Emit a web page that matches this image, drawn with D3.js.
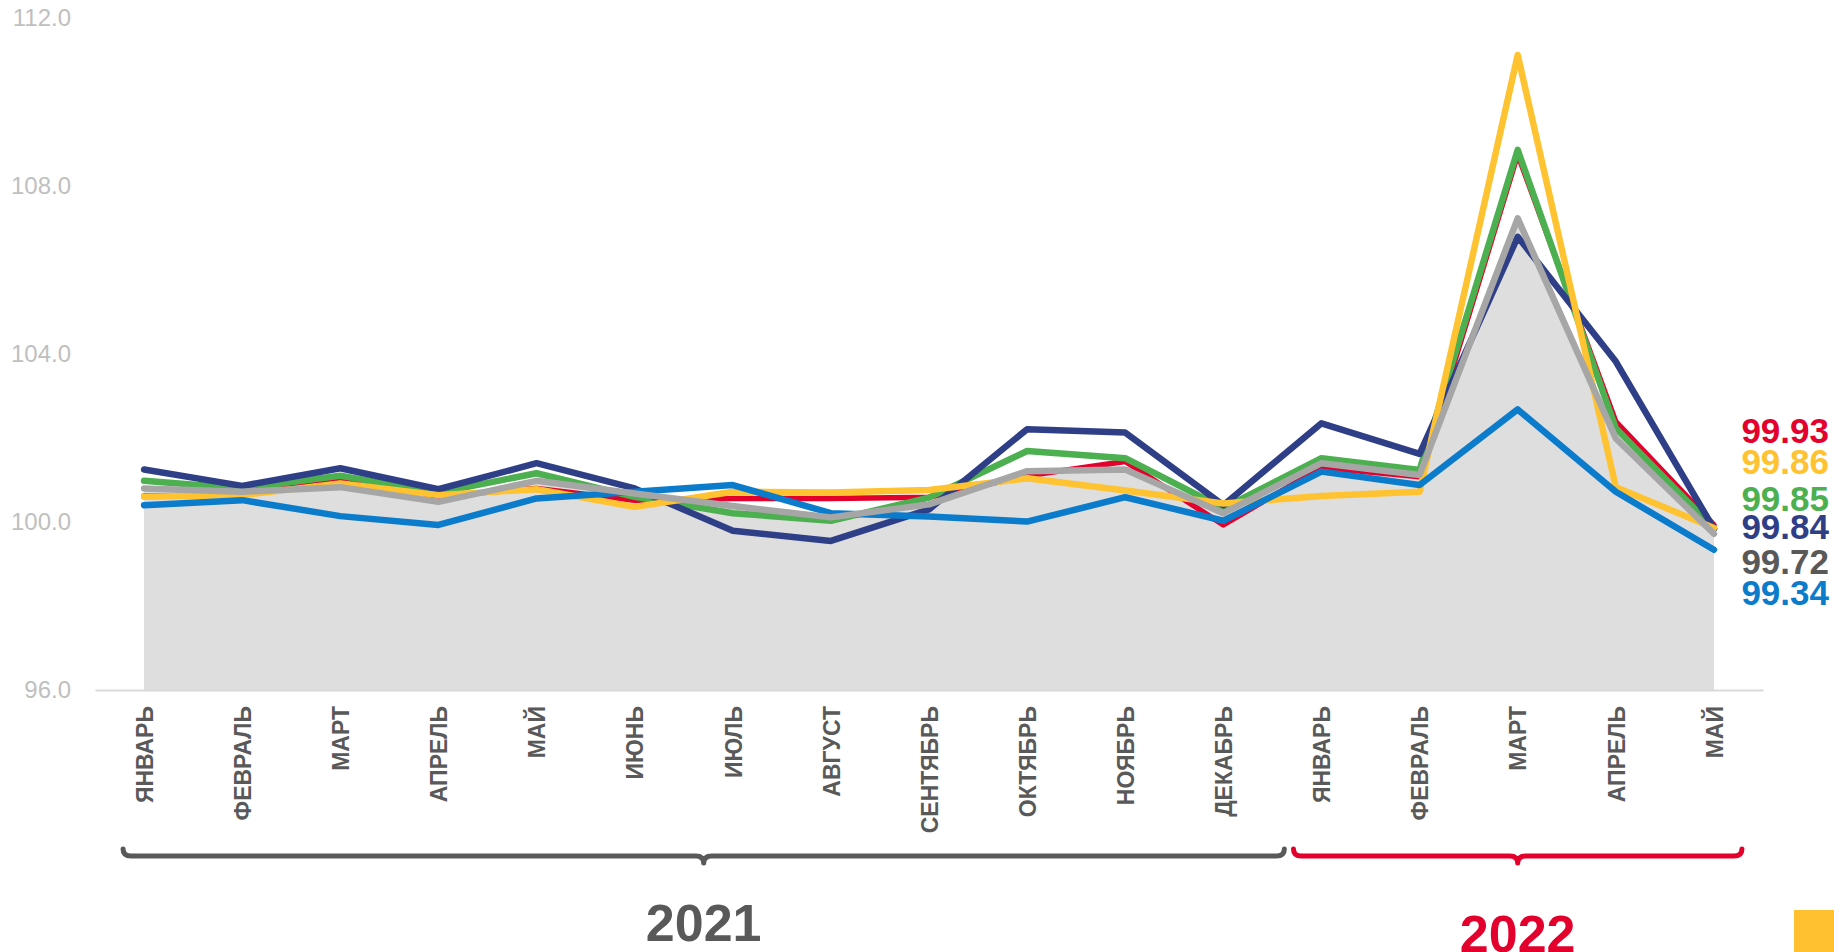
<!DOCTYPE html>
<html>
<head>
<meta charset="utf-8">
<script src="https://cdn.jsdelivr.net/npm/d3@7"></script>
<style>
  html, body { margin: 0; padding: 0; background: #ffffff; }
  svg { display: block; font-family: "Liberation Sans", Arial, sans-serif; }
</style>
</head>
<body>
<svg id="chart" width="1834" height="952"></svg>
<script>
// ---- data ----
const months = ["ЯНВАРЬ","ФЕВРАЛЬ","МАРТ","АПРЕЛЬ","МАЙ","ИЮНЬ","ИЮЛЬ","АВГУСТ","СЕНТЯБРЬ","ОКТЯБРЬ","НОЯБРЬ","ДЕКАБРЬ","ЯНВАРЬ","ФЕВРАЛЬ","МАРТ","АПРЕЛЬ","МАЙ"];
const yTicks = [96, 100, 104, 108, 112];
const years = ["2021", "2022"];

const redSeries    = [100.62,100.65,101.00,100.62,100.80,100.52,100.56,100.56,100.59,101.10,101.44, 99.93,101.30,101.08,108.75,102.39, 99.93];
const yellowSeries = [100.60,100.64,100.92,100.64,100.78,100.36,100.72,100.70,100.76,101.04,100.75,100.44,100.62,100.72,111.12,100.83, 99.86];
const greenSeries  = [100.98,100.80,101.10,100.70,101.16,100.60,100.21,100.03,100.58,101.69,101.52,100.33,101.52,101.24,108.86,102.23, 99.85];
const navySeries   = [101.25,100.86,101.28,100.78,101.40,100.80, 99.79, 99.55,100.30,102.21,102.13,100.40,102.35,101.62,106.79,103.82, 99.84];
const graySeries   = [100.80,100.72,100.83,100.48,100.98,100.68,100.38,100.11,100.42,101.21,101.25,100.21,101.40,101.12,107.23,101.99, 99.72];
const blueSeries   = [100.40,100.52,100.14, 99.93,100.56,100.72,100.88,100.21,100.13,100.01,100.59,100.03,101.20,100.88,102.68,100.72, 99.34];

const endLabels = ["99.93","99.86","99.85","99.84","99.72","99.34"];

// ---- styles ----
const C = {
  red: "#e3002c", yellow: "#ffc230", green: "#4caf50", navy: "#2f3f87",
  gray: "#a6a6a6", blue: "#0b7bcc", area: "#dedede", text: "#595959", tick: "#bfbfbf"
};

const svg = d3.select("#chart");

const idx = d3.range(months.length);
const x = d3.scalePoint().domain(idx).range([95, 1763]).padding(0.5);
const y = d3.scaleLinear().domain([96, 112]).range([690, 18]);

// area (gray series)
const area = d3.area().x((d, i) => x(i)).y0(y(96)).y1(d => y(d));
svg.append("path").datum(graySeries).attr("d", area).attr("fill", C.area);

// x axis
const xAxis = svg.append("g").attr("transform", `translate(0,${y(96)})`)
  .call(d3.axisBottom(x).tickSize(0).tickFormat(i => months[i]));
xAxis.select(".domain").attr("stroke", "#d9d9d9").attr("stroke-width", 2);
xAxis.selectAll("text")
  .attr("transform", "rotate(-90)")
  .attr("text-anchor", "end")
  .attr("x", -16).attr("y", 0).attr("dy", "0.36em")
  .attr("fill", C.text)
  .style("font-size", "23px").style("font-weight", "bold")
  .style("font-family", "'Liberation Sans', Arial, sans-serif");

// y axis
const yAxis = svg.append("g").attr("transform", "translate(95,0)")
  .call(d3.axisLeft(y).tickValues(yTicks).tickSize(0).tickPadding(24).tickFormat(d3.format(".1f")));
yAxis.select(".domain").remove();
yAxis.selectAll("text").attr("fill", C.tick)
  .style("font-size", "24px")
  .style("font-family", "'Liberation Sans', Arial, sans-serif");

// lines
const line = d3.line().x((d, i) => x(i)).y(d => y(d));
const drawOrder = [
  [redSeries, C.red, 5.5],
  [greenSeries, C.green, 6.5],
  [navySeries, C.navy, 6.5],
  [yellowSeries, C.yellow, 6.5],
  [blueSeries, C.blue, 6.5],
  [graySeries, C.gray, 6.5]
];
drawOrder.forEach(([s, col, w]) => {
  svg.append("path").datum(s).attr("d", line)
    .attr("fill", "none").attr("stroke", col).attr("stroke-width", w)
    .attr("stroke-linejoin", "round").attr("stroke-linecap", "round");
});

// end value labels
const labelColors = [C.red, C.yellow, C.green, C.navy, C.text, C.blue];
const labelBase = [443, 474, 511, 539, 574, 605];
endLabels.forEach((t, i) => {
  svg.append("text").attr("x", 1829).attr("y", labelBase[i])
    .attr("text-anchor", "end").attr("fill", labelColors[i])
    .style("font-size", "35px").style("font-weight", "bold")
    .text(t);
});

// braces
function brace(x0, x1, yb, col) {
  const cx = (x0 + x1) / 2, r = 8;
  const p = `M${x0},${yb - 7} Q${x0},${yb} ${x0 + r},${yb} L${cx - r},${yb} Q${cx},${yb} ${cx},${yb + 7} Q${cx},${yb} ${cx + r},${yb} L${x1 - r},${yb} Q${x1},${yb} ${x1},${yb - 7}`;
  svg.append("path").attr("d", p).attr("fill", "none").attr("stroke", col)
    .attr("stroke-width", 5).attr("stroke-linecap", "round").attr("stroke-linejoin", "round");
}
const firstX = x(0), decX = x(11), jan22X = x(12), lastX = x(16);
brace(firstX - 21, decX + 61, 856, C.text);
brace(jan22X - 28, lastX + 28, 856, C.red);

// year labels
svg.append("text").attr("x", (firstX - 21 + decX + 61) / 2).attr("y", 941)
  .attr("text-anchor", "middle").attr("fill", C.text)
  .style("font-size", "52px").style("font-weight", "bold").text(years[0]);
svg.append("text").attr("x", (jan22X - 28 + lastX + 28) / 2).attr("y", 952)
  .attr("text-anchor", "middle").attr("fill", C.red)
  .style("font-size", "52px").style("font-weight", "bold").text(years[1]);

// corner yellow block
svg.append("rect").attr("x", 1794).attr("y", 910).attr("width", 40).attr("height", 42).attr("fill", "#ffc12f");
</script>
</body>
</html>
